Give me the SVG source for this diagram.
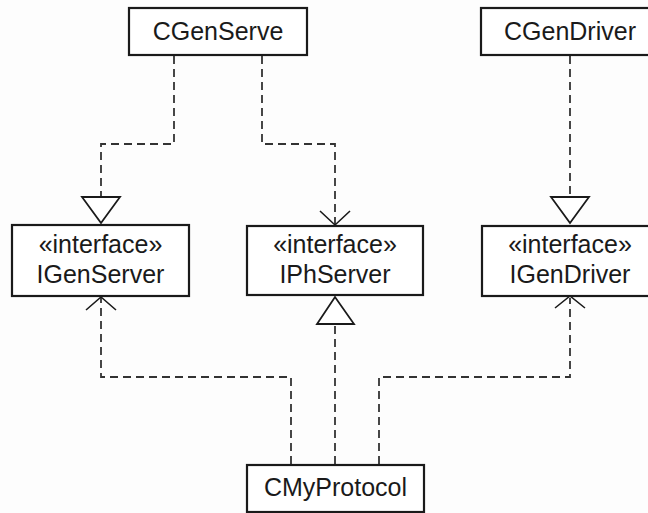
<svg xmlns="http://www.w3.org/2000/svg" width="648" height="513" viewBox="0 0 648 513">
<style>
.box{fill:#fff;stroke:#1a1a1a;stroke-width:2.2}
.t{font-family:"Liberation Sans",Arial,sans-serif;font-size:25px;fill:#1a1a1a;text-anchor:middle}
.dash{fill:none;stroke:#333;stroke-width:1.8;stroke-dasharray:8,5}
.head{fill:#fff;stroke:#1a1a1a;stroke-width:1.8}
.open{fill:none;stroke:#1a1a1a;stroke-width:1.6}
</style>
<rect width="648" height="513" fill="#fdfdfd"/>
<g id="connectors">
<path class="dash" d="M174,56 V144 H101 V197"/>
<polygon class="head" points="82,197 120,197 101,223"/>
<path class="dash" d="M262,56 V144 H335 V224"/>
<path class="open" d="M320,211 L335,225 L350,211"/>
<path class="dash" d="M570,56 V197"/>
<polygon class="head" points="551,197 589,197 570,223"/>
<path class="dash" d="M291,464 V377 H101 V298"/>
<path class="open" d="M86,310 L101,297 L116,310"/>
<path class="dash" d="M335,464 V324"/>
<polygon class="head" points="317,324 354,324 335,297"/>
<path class="dash" d="M379,464 V377 H570 V298"/>
<path class="open" d="M555,308 L570,296 L585,308"/>
</g>
<g id="CGenServe">
<rect class="box" x="129" y="8" width="178" height="47"/>
<text class="t" x="218" y="40">CGenServe</text>
</g>
<g id="CGenDriver">
<rect class="box" x="481" y="8" width="178" height="47"/>
<text class="t" x="570" y="40">CGenDriver</text>
</g>
<g id="IGenServer">
<rect class="box" x="12" y="225" width="177" height="71"/>
<text class="t" x="100.5" y="253">«interface»</text>
<text class="t" x="100.5" y="283">IGenServer</text>
</g>
<g id="IPhServer">
<rect class="box" x="247" y="226" width="176" height="69"/>
<text class="t" x="335" y="253">«interface»</text>
<text class="t" x="335" y="283">IPhServer</text>
</g>
<g id="IGenDriver">
<rect class="box" x="482" y="226" width="176" height="70"/>
<text class="t" x="570" y="253">«interface»</text>
<text class="t" x="570" y="283">IGenDriver</text>
</g>
<g id="CMyProtocol">
<rect class="box" x="247" y="465" width="177" height="47"/>
<text class="t" x="335.5" y="496">CMyProtocol</text>
</g>
</svg>
